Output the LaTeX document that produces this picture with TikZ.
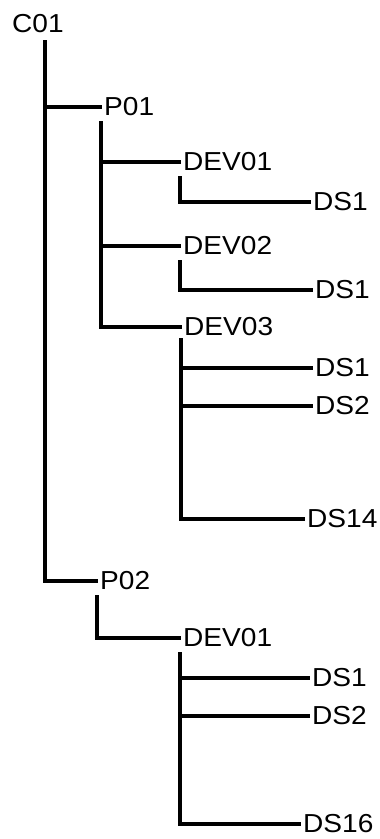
\documentclass[tikz,border=0pt]{standalone}
\usepackage{fontspec}
\newfontfamily\treefont[FakeStretch=1.08]{Liberation Sans}
\tikzset{
  item/.style = {anchor=west, inner xsep=2pt, inner ysep=1pt,
                 font=\treefont\fontsize{26}{26}\selectfont},
  link/.style = {line width=3.3pt, draw=black},
}

\begin{document}
\begin{tikzpicture}[x=1pt, y=-1pt]
\useasboundingbox (0,0) rectangle (380,839);

% Root
\node (c01) [item] at (10,24) {C01};

% First group
\node (p01)    [item] at (102,107) {P01};
\node (d11)    [item] at (181,162) {DEV01};
\node (d11s1)  [item] at (311,202) {DS1};
\node (d12)    [item] at (181,246) {DEV02};
\node (d12s1)  [item] at (313,290) {DS1};
\node (d13)    [item] at (182,327) {DEV03};
\node (d13s1)  [item] at (313,368) {DS1};
\node (d13s2)  [item] at (313,406) {DS2};
\node (d13s14) [item] at (305,519) {DS14};

% Second group
\node (p02)    [item] at (98,581) {P02};
\node (d21)    [item] at (181,638) {DEV01};
\node (d21s1)  [item] at (310,678) {DS1};
\node (d21s2)  [item] at (310,716) {DS2};
\node (d21s16) [item] at (301,824) {DS16};

% Links
\draw [link] ([xshift=7pt,yshift=-6pt]c01.south) |- (p01.west);
\draw [link] ([xshift=7pt,yshift=-6pt]c01.south) |- (p02.west);
\draw [link] ([xshift=-1pt,yshift=-4pt]p01.south west) |- (d11.west);
\draw [link] ([xshift=-1pt,yshift=-4pt]p01.south west) |- (d12.west);
\draw [link] ([xshift=-1pt,yshift=-4pt]p01.south west) |- (d13.west);
\draw [link] ([xshift=-1pt,yshift=-4pt]d11.south west) |- (d11s1.west);
\draw [link] ([xshift=-1pt,yshift=-4pt]d12.south west) |- (d12s1.west);
\draw [link] ([xshift=-1pt,yshift=-1pt]d13.south west) |- (d13s1.west);
\draw [link] ([xshift=-1pt,yshift=-1pt]d13.south west) |- (d13s2.west);
\draw [link] ([xshift=-1pt,yshift=-1pt]d13.south west) |- (d13s14.west);
\draw [link] ([xshift=-1pt,yshift=-4pt]p02.south west) |- (d21.west);
\draw [link] ([xshift=-1pt,yshift=-4pt]d21.south west) |- (d21s1.west);
\draw [link] ([xshift=-1pt,yshift=-4pt]d21.south west) |- (d21s2.west);
\draw [link] ([xshift=-1pt,yshift=-4pt]d21.south west) |- (d21s16.west);

\end{tikzpicture}
\end{document}
